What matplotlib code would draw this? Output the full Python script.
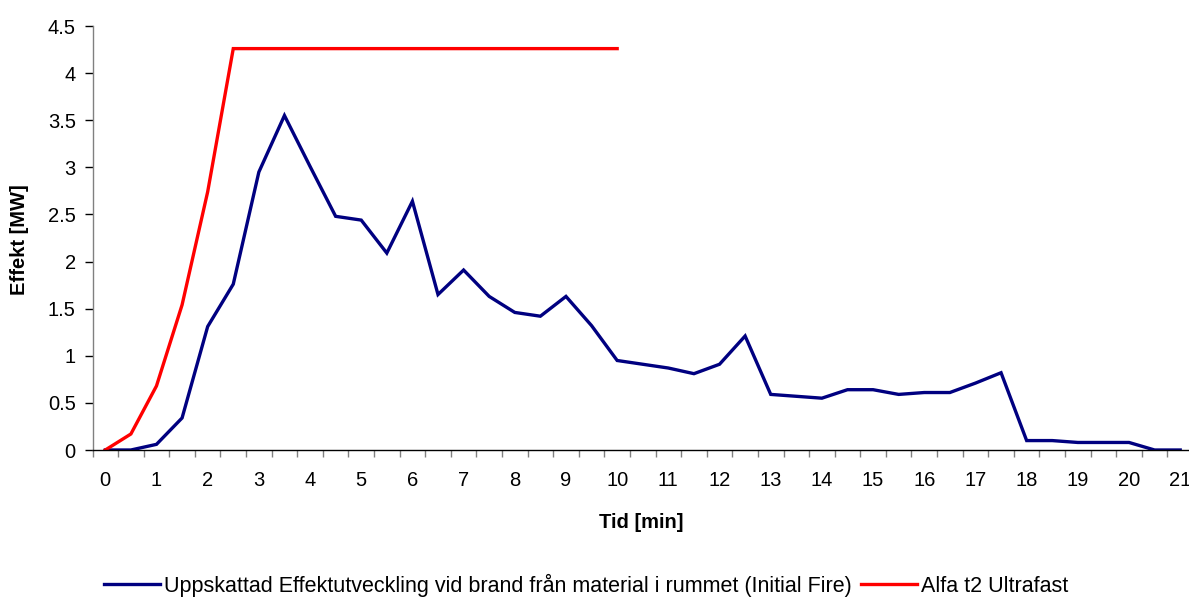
import matplotlib
matplotlib.use("Agg")
import matplotlib.pyplot as plt
import numpy as np

plt.rcParams['font.family'] = ['Liberation Sans', 'DejaVu Sans']

# Data (time in minutes, effect in MW)
time_blue = [0, 0.5, 1, 1.5, 2, 2.5, 3, 3.5, 4, 4.5, 5, 5.5, 6, 6.5, 7, 7.5, 8, 8.5, 9, 9.5,
             10, 10.5, 11, 11.5, 12, 12.5, 13, 13.5, 14, 14.5, 15, 15.5, 16, 16.5, 17, 17.5,
             18, 18.5, 19, 19.5, 20, 20.5, 21]
effect_blue = [0, 0, 0.06, 0.34, 1.31, 1.76, 2.95, 3.55, 3.01, 2.48, 2.44, 2.09, 2.64, 1.65,
               1.91, 1.63, 1.46, 1.42, 1.63, 1.32, 0.95, 0.91, 0.87, 0.81, 0.91, 1.21, 0.59,
               0.57, 0.55, 0.64, 0.64, 0.59, 0.61, 0.61, 0.71, 0.82, 0.10, 0.10, 0.08, 0.08,
               0.08, 0, 0]
time_red = [0, 0.5, 1, 1.5, 2, 2.5, 3, 3.5, 4, 4.5, 5, 5.5, 6, 6.5, 7, 7.5, 8, 8.5, 9, 9.5, 10]
effect_red = [0, 0.17, 0.68, 1.54, 2.74, 4.26, 4.26, 4.26, 4.26, 4.26, 4.26, 4.26, 4.26, 4.26,
              4.26, 4.26, 4.26, 4.26, 4.26, 4.26, 4.26]

label_blue = "Uppskattad Effektutveckling vid brand från material i rummet (Initial Fire)"
label_red = "Alfa t2 Ultrafast"
x_tick_labels = [str(i) for i in range(22)]
y_ticks = [0, 0.5, 1, 1.5, 2, 2.5, 3, 3.5, 4, 4.5]
y_tick_labels = ["0", "0.5", "1", "1.5", "2", "2.5", "3", "3.5", "4", "4.5"]

W, H = 1189, 599
fig = plt.figure(figsize=(W / 100, H / 100), dpi=100)
left, right, top, bottom = 92.5, 1193, 26, 450
ax = fig.add_axes([left / W, 1 - bottom / H, (right - left) / W, (bottom - top) / H])

ax.plot(time_blue, effect_blue, color='#000080', lw=2.4, solid_joinstyle='miter', label=label_blue)
ax.plot(time_red, effect_red, color='#FF0000', lw=2.4, solid_joinstyle='miter', label=label_red)

ax.set_xlim(-0.25, 21.25)
ax.set_ylim(0, 4.5)

ax.set_xticks(range(22))
ax.set_xticklabels(x_tick_labels, fontsize=14.5)
ax.set_xticks(np.arange(-0.25, 21.3, 0.5), minor=True)
ax.tick_params(axis='x', which='major', length=0, pad=15)
ax.tick_params(axis='x', which='minor', length=5, width=1, color='#808080', direction='out')

ax.set_yticks(y_ticks)
ax.set_yticklabels(y_tick_labels, fontsize=14.5)
ax.tick_params(axis='y', which='major', length=6, width=1, color='#000000', direction='out', pad=6)

for s in ['top', 'right']:
    ax.spines[s].set_visible(False)
ax.spines['left'].set_color('#808080')
ax.spines['bottom'].set_color('#000000')
ax.spines['left'].set_linewidth(1)
ax.spines['bottom'].set_linewidth(1)

fig.text(20 / W, 1 - 240 / H, "Effekt [MW]", rotation=90, fontsize=14.5, fontweight='bold',
         ha='center', va='center')
fig.text(641 / W, 1 - 523 / H, "Tid [min]", fontsize=14.5, fontweight='bold',
         ha='center', va='center')

fig.legend(loc='center', bbox_to_anchor=(586 / W, 1 - 585 / H), ncol=2, frameon=False,
           fontsize=15.5, handlelength=2.6, handletextpad=0.2, columnspacing=0.4)

fig.savefig("out.png", dpi=100)
